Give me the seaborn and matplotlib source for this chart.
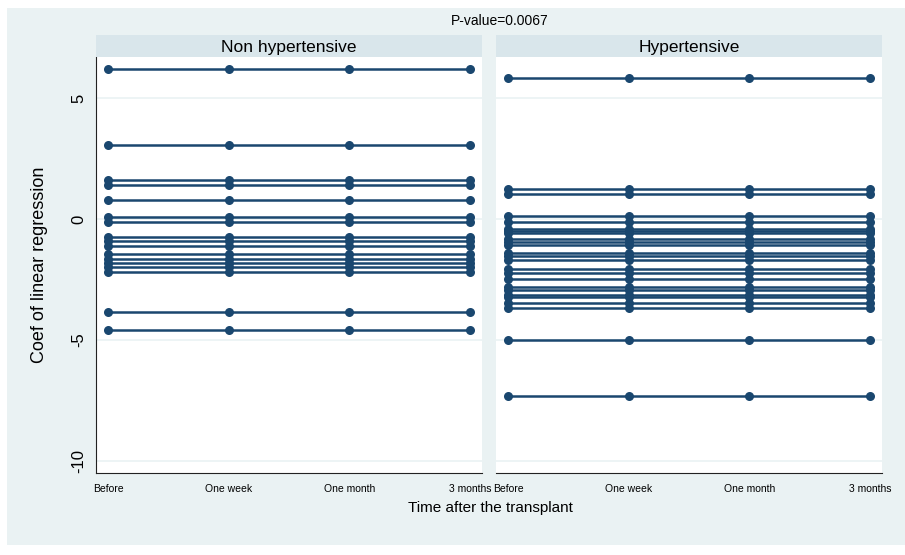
import pandas as pd
import seaborn as sns
import matplotlib.pyplot as plt
from matplotlib.patches import Rectangle

# Data: one regression coefficient per patient, shown at each time point
times = ["Before", "One week", "One month", "3 months"]
groups = ["Non hypertensive", "Hypertensive"]
coef_non_hyp = [6.2, 3.04, 1.6, 1.41, 0.79, 0.09, -0.11, -0.76, -0.93, -1.11,
                -1.45, -1.64, -1.83, -2.0, -2.18, -3.83, -4.59]
coef_hyp = [5.81, 1.23, 1.02, 0.12, -0.14, -0.43, -0.50, -0.57, -0.84, -0.96,
            -1.07, -1.39, -1.52, -1.69, -2.08, -2.25, -2.49, -2.80, -2.93, -3.14,
            -3.24, -3.49, -3.69, -5.0, -7.3]
y_ticks = [5, 0, -5, -10]
p_value = "P-value=0.0067"

NAVY = "#1a476f"
BG = "#eaf2f3"
STRIP = "#d9e6eb"

rows = []
for group, coefs in zip(groups, [coef_non_hyp, coef_hyp]):
    for pid, c in enumerate(coefs):
        for t in range(len(times)):
            rows.append({"group": group, "id": pid, "time": t, "coef": c})
df = pd.DataFrame(rows)

sns.set_style("white")
plt.rcParams["font.family"] = ["Liberation Sans", "DejaVu Sans"]
plt.rcParams["text.color"] = "black"
plt.rcParams["xtick.color"] = "black"
plt.rcParams["ytick.color"] = "black"

fig = plt.figure(figsize=(9.05, 5.55), dpi=100, facecolor="white")
fig.patches.append(Rectangle((7 / 905, 10 / 555), 1, 537 / 555,
                             transform=fig.transFigure, facecolor=BG,
                             edgecolor="none", zorder=-10))

H = 555
bottom = (H - 472.7) / H
height = (472.7 - 57) / H
lefts = [96 / 905, 496 / 905]
width = 386 / 905

for i, group in enumerate(groups):
    ax = fig.add_axes([lefts[i], bottom, width, height])
    ax.set_facecolor("white")
    for yt in y_ticks:
        ax.axhline(yt, color=BG, lw=1.2, zorder=0)
    sub = df[df["group"] == group]
    sns.lineplot(data=sub, x="time", y="coef", units="id", estimator=None,
                 color=NAVY, lw=1.8, marker="o", markersize=6.5,
                 markeredgewidth=0, ax=ax, legend=False)
    ax.set_xlim(-0.1, 3.1)
    ax.set_ylim(-10.48, 6.69)
    ax.set_xticks(range(len(times)))
    ax.set_xticklabels(times, fontsize=7.5)
    ax.set_xlabel("")
    ax.set_ylabel("")
    for s in ["top", "right"]:
        ax.spines[s].set_visible(False)
    ax.spines["bottom"].set_color("#222222")
    ax.tick_params(axis="x", length=4, width=0.8, color="#222222", pad=4)
    if i == 0:
        ax.spines["left"].set_color("#222222")
        ax.set_yticks(y_ticks)
        ax.set_yticklabels([str(v) for v in y_ticks], rotation=90,
                           va="center", fontsize=12)
        ax.tick_params(axis="y", length=4, width=0.8, color="#222222", pad=3)
    else:
        ax.spines["left"].set_visible(False)
        ax.set_yticks([])

    # panel header strip
    sax = fig.add_axes([lefts[i], (H - 57) / H, width, 22 / H])
    sax.set_facecolor(STRIP)
    sax.set_xticks([])
    sax.set_yticks([])
    for s in sax.spines.values():
        s.set_visible(False)
    sax.text(0.5, 0.45, group, ha="center", va="center", fontsize=12.5,
             transform=sax.transAxes)

fig.text(500 / 905, 1 - 21 / H, p_value, ha="center", va="center", fontsize=10)
fig.text(490 / 905, 1 - 508 / H, "Time after the transplant", ha="center",
         va="center", fontsize=11)
fig.text(40 / 905, 1 - 265 / H, "Coef of linear regression", rotation=90,
         ha="center", va="center", fontsize=13)

plt.savefig("out.png", dpi=100, facecolor="white")
